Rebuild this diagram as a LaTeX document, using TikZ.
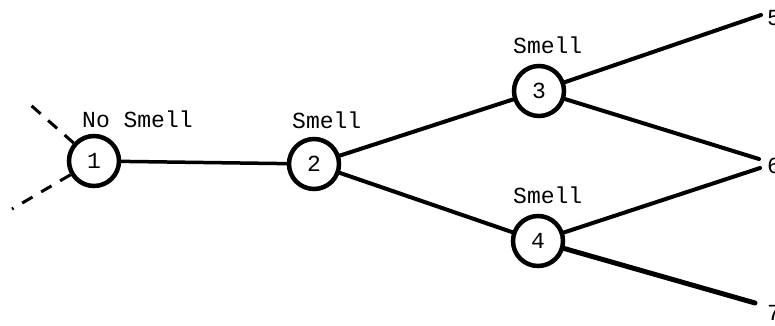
\documentclass[tikz,border=0pt]{standalone}
\usepackage{fontspec}
\setmonofont{Liberation Mono}
\usepackage{tikz}
\usetikzlibrary{positioning}
\tikzstyle{state} = [circle, draw=black, line width=4.5pt, minimum size=50pt, inner sep=0pt,
font=\ttfamily\fontsize{23}{26}\selectfont]
\tikzstyle{tag} = [inner sep=0pt, anchor=base west, font=\ttfamily\fontsize{23}{26}\selectfont]
\tikzstyle{branch} = [line width=4pt, line cap=round]
\tikzstyle{dashline} = [line width=3pt, dash pattern=on 12pt off 10pt]

\begin{document}
\begin{tikzpicture}[x=1pt, y=-1pt]
        \useasboundingbox (0,0) rectangle (775,325);

        \node[state] (c1) at (94,161) {1};
        \node[state] (c2) at (314,164) {2};
        \node[state] (c3) at (539,91) {3};
        \node[state] (c4) at (538,241) {4};

        \node[tag] (t1) at (82,127) {No Smell};
        \node[tag] (t2) at (292,128) {Smell};
        \node[tag] (t3) at (513,53) {Smell};
        \node[tag] (t4) at (513,203) {Smell};

        \coordinate (e5) at (761,15);
        \coordinate (e6a) at (759,159);
        \coordinate (e6b) at (760,168);
        \coordinate (e7) at (755,303);
        \node[tag] (t5) at (767,25) {5};
        \node[tag] (t6) at (767,173) {6};
        \node[tag] (t7) at (767,320) {7};

        \coordinate (in1) at (25,100);
        \coordinate (in2) at (12,209);
        \draw[dashline] (c1) -- (in1);
        \draw[dashline] (c1) -- (in2);

        \draw[branch, line width=3.5pt] (c1) -- (c2);
        \draw[branch] (c2) -- (c3);
        \draw[branch] (c2) -- (c4);
        \draw[branch] (c3) -- (e5);
        \draw[branch] (c3) -- (e6a);
        \draw[branch] (c4) -- (e6b);
        \draw[branch, line width=5pt] (c4) -- (e7);

    \end{tikzpicture}
\end{document}
